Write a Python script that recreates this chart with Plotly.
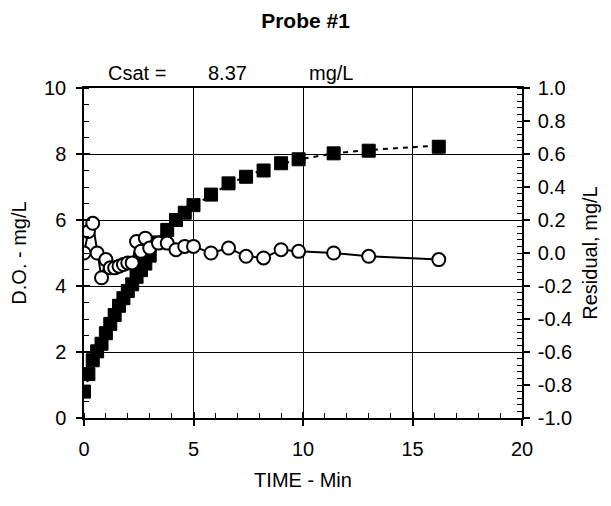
import plotly.graph_objects as go

# ---- data ----
time_min = [0.0, 0.2, 0.4, 0.6, 0.8, 1.0, 1.2, 1.4, 1.6, 1.8, 2.0, 2.2, 2.4, 2.6, 2.8,
            3.0, 3.4, 3.8, 4.2, 4.6, 5.0, 5.8, 6.6, 7.4, 8.2, 9.0, 9.8, 11.4, 13.0, 16.2]
do_measured = [0.80, 1.33, 1.75, 2.02, 2.25, 2.57, 2.85, 3.12, 3.40, 3.63, 3.85, 4.05, 4.28, 4.48, 4.68,
               4.92, 5.32, 5.70, 6.00, 6.22, 6.45, 6.77, 7.11, 7.31, 7.50, 7.72, 7.84, 8.02, 8.10, 8.22]
do_fit = [0.80, 1.20, 1.57, 2.02, 2.40, 2.61, 2.94, 3.21, 3.48, 3.70, 3.91, 4.11, 4.21, 4.47, 4.59,
          4.89, 5.26, 5.64, 5.98, 6.18, 6.41, 6.77, 7.08, 7.33, 7.53, 7.70, 7.83, 8.02, 8.12, 8.26]
residual = [0.00, 0.13, 0.18, 0.00, -0.15, -0.04, -0.09, -0.09, -0.08, -0.07, -0.06, -0.06, 0.07, 0.01, 0.09,
            0.03, 0.06, 0.06, 0.02, 0.04, 0.04, 0.00, 0.03, -0.02, -0.03, 0.02, 0.01, 0.00, -0.02, -0.04]

x_ticks = [0, 5, 10, 15, 20]
y_ticks = [0, 2, 4, 6, 8, 10]
y2_ticks = [-1.0, -0.8, -0.6, -0.4, -0.2, 0.0, 0.2, 0.4, 0.6, 0.8, 1.0]
y2_ticktext = ["-1.0", "-0.8", "-0.6", "-0.4", "-0.2", "0.0", "0.2", "0.4", "0.6", "0.8", "1.0"]

csat_label = "Csat ="
csat_value = "8.37"
csat_unit = "mg/L"

FONT = "Liberation Sans, Arial, sans-serif"
FS = 20

fig = go.Figure()

fig.add_trace(go.Scatter(x=time_min, y=do_fit, mode="lines",
                         line=dict(color="black", width=2, dash="5px,5px"),
                         showlegend=False, hoverinfo="skip"))
fig.add_trace(go.Scatter(x=time_min, y=do_measured, mode="markers",
                         marker=dict(symbol="square", size=13, color="black",
                                     line=dict(color="black", width=1)),
                         showlegend=False))
fig.add_trace(go.Scatter(x=time_min, y=residual, mode="lines+markers", yaxis="y2",
                         line=dict(color="black", width=2),
                         marker=dict(symbol="circle", size=13, color="white",
                                     line=dict(color="black", width=2)),
                         showlegend=False))
# empty trace to create an overlay subplot used for inward major ticks
fig.add_trace(go.Scatter(x=[], y=[], xaxis="x3", yaxis="y3", showlegend=False))

axis_common = dict(showline=True, linecolor="black", linewidth=1.5,
                   ticks="outside", ticklen=6, tickwidth=1.5, tickcolor="black",
                   tickfont=dict(family=FONT, size=FS, color="black"),
                   zeroline=False, automargin=False)

# the page body adds an 8px offset, so margins are shifted to compensate
fig.update_layout(
    width=611, height=506,
    margin=dict(l=76, r=97, t=80, b=96),
    paper_bgcolor="white", plot_bgcolor="white",
    font=dict(family=FONT, size=FS, color="black"),
    title=dict(text="<b>Probe #1</b>", xref="container", x=0.487, xanchor="center",
               yref="container", y=0.975, yanchor="middle", pad=dict(t=0, b=0),
               font=dict(family=FONT, size=21, color="black")),
    xaxis=dict(range=[0, 20], tickvals=x_ticks, mirror=True, ticklabelstandoff=6,
               showgrid=True, gridcolor="black", gridwidth=1,
               minor=dict(dtick=1, ticks="inside", ticklen=5, tickwidth=1, tickcolor="black", showgrid=False),
               title=dict(text="TIME - Min", font=dict(family=FONT, size=FS, color="black"), standoff=14),
               **axis_common),
    yaxis=dict(range=[0, 10], tickvals=y_ticks, mirror=False, ticklabelstandoff=6,
               showgrid=True, gridcolor="black", gridwidth=1,
               minor=dict(dtick=0.5, ticks="inside", ticklen=5, tickwidth=1, tickcolor="black", showgrid=False),
               title=dict(text="D.O. - mg/L", font=dict(family=FONT, size=FS, color="black"), standoff=12),
               **axis_common),
    yaxis2=dict(range=[-1, 1], tickvals=y2_ticks, ticktext=y2_ticktext, overlaying="y", side="right",
                anchor="x", showgrid=False, ticklabelstandoff=4,
                minor=dict(dtick=0.04, ticks="inside", ticklen=5, tickwidth=1, tickcolor="black", showgrid=False),
                title=dict(text="Residual, mg/L", font=dict(family=FONT, size=FS, color="black"), standoff=12),
                **axis_common),
    xaxis3=dict(range=[0, 20], overlaying="x", anchor="y3", tickvals=x_ticks, ticks="inside",
                ticklen=6, tickwidth=1.5, tickcolor="black", showticklabels=False,
                showgrid=False, zeroline=False, showline=False, automargin=False),
    yaxis3=dict(range=[0, 10], overlaying="y", anchor="x3", side="left", tickvals=y_ticks, ticks="inside",
                ticklen=6, tickwidth=1.5, tickcolor="black", showticklabels=False,
                showgrid=False, zeroline=False, showline=False, automargin=False),
    annotations=[
        dict(text=csat_label, xref="paper", yref="paper", x=0.05, y=1.0, xanchor="left", yanchor="bottom",
             yshift=2, showarrow=False, font=dict(family=FONT, size=FS, color="black")),
        dict(text=csat_value, xref="paper", yref="paper", x=0.279, y=1.0, xanchor="left", yanchor="bottom",
             yshift=2, showarrow=False, font=dict(family=FONT, size=FS, color="black")),
        dict(text=csat_unit, xref="paper", yref="paper", x=0.51, y=1.0, xanchor="left", yanchor="bottom",
             yshift=2, showarrow=False, font=dict(family=FONT, size=FS, color="black")),
    ],
)

fig.write_html("out.html")
